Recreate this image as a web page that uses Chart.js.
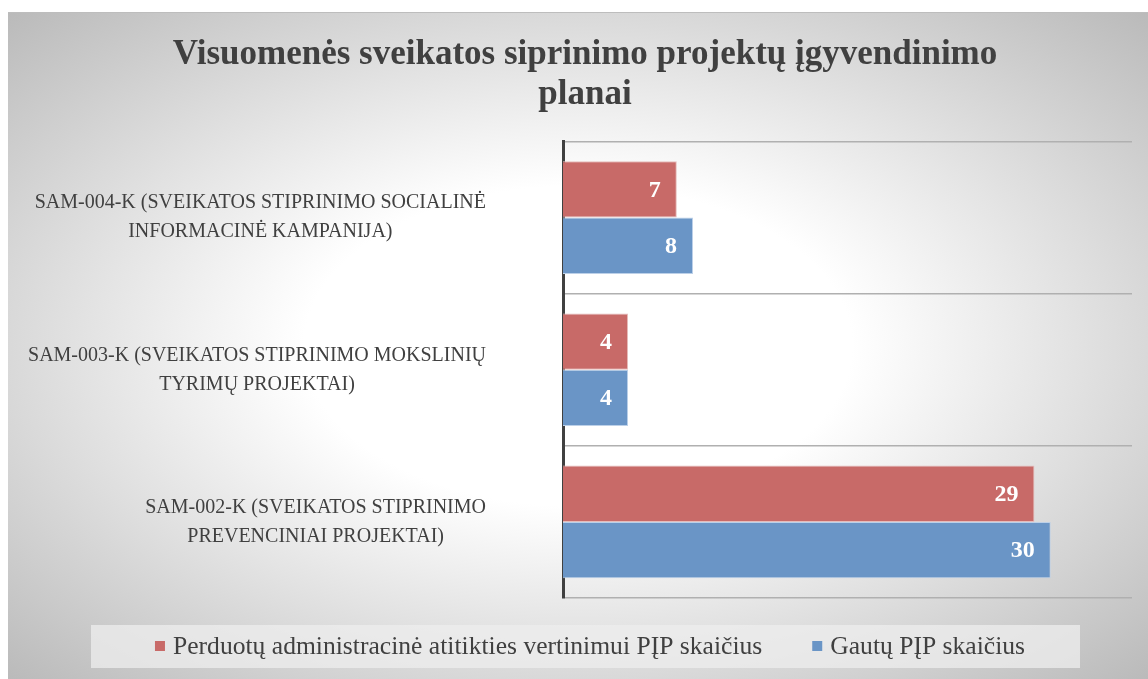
<!DOCTYPE html>
<html>
<head>
<meta charset="utf-8">
<script src="https://cdn.jsdelivr.net/npm/chart.js@4.4.1/dist/chart.umd.min.js"></script>
<style>
    html, body { margin: 0; padding: 0; background: #fff; }
    #frame {
        position: absolute; left: 8px; top: 12px; width: 1140px; height: 667px;
        box-sizing: border-box; border-top: 1px solid #bdbdbd;
        background: radial-gradient(ellipse farthest-corner at 50% 50%, #ffffff 0%, #ffffff 34%, #bababa 100%);
    }
</style>
</head>
<body>
<div id="frame"><canvas id="chart"></canvas></div>
<script>
var categories = [
    ['SAM-004-K (SVEIKATOS STIPRINIMO SOCIALINĖ', 'INFORMACINĖ KAMPANIJA)'],
    ['SAM-003-K (SVEIKATOS STIPRINIMO MOKSLINIŲ', 'TYRIMŲ PROJEKTAI)'],
    ['SAM-002-K (SVEIKATOS STIPRINIMO', 'PREVENCINIAI PROJEKTAI)']
];
var perduotu = [7, 4, 29];
var gautu = [8, 4, 30];
var seriesNames = ['Perduotų administracinė atitikties vertinimui PĮP skaičius', 'Gautų PĮP skaičius'];
var seriesColors = ['#C86A68', '#6A95C6'];
var titleLines = ['Visuomenės sveikatos siprinimo projektų įgyvendinimo', 'planai'];

var SERIF = '"Liberation Serif", "DejaVu Serif", serif';

// numbers inside the bar ends
var valueLabels = {
    id: 'valueLabels',
    afterDatasetsDraw: function (chart) {
        var ctx = chart.ctx;
        ctx.save();
        ctx.font = 'bold 24px ' + SERIF;
        ctx.fillStyle = '#ffffff';
        ctx.textAlign = 'right';
        ctx.textBaseline = 'middle';
        chart.data.datasets.forEach(function (ds, i) {
            chart.getDatasetMeta(i).data.forEach(function (bar, j) {
                ctx.fillText(ds.data[j], bar.x - 16, bar.y + 1);
            });
        });
        ctx.restore();
    }
};

// two-line category labels, lines centred in a right-aligned block
var categoryLabels = {
    id: 'categoryLabels',
    afterDraw: function (chart) {
        var ctx = chart.ctx, scale = chart.scales.y;
        var right = chart.chartArea.left - 77;
        ctx.save();
        ctx.font = '20px ' + SERIF;
        ctx.fillStyle = '#404040';
        ctx.textAlign = 'center';
        ctx.textBaseline = 'middle';
        categories.forEach(function (lines, i) {
            var w = Math.max.apply(null, lines.map(function (t) { return ctx.measureText(t).width; }));
            var y = scale.getPixelForTick(i);
            lines.forEach(function (t, k) {
                ctx.fillText(t, right - w / 2, y + (k - (lines.length - 1) / 2) * 29);
            });
        });
        ctx.restore();
    }
};

// legend with its light panel
var legendPanel = {
    id: 'legendPanel',
    afterDraw: function (chart) {
        var ctx = chart.ctx;
        var y = chart.height - 33;
        ctx.save();
        ctx.font = '25.6px ' + SERIF;
        var gap = 50, box = 10, textGap = 8;
        var widths = seriesNames.map(function (t) { return ctx.measureText(t).width; });
        var total = 0;
        widths.forEach(function (w, i) { total += box + textGap + w + (i > 0 ? gap : 0); });
        var x = chart.width / 2 - total / 2 + 12;
        ctx.fillStyle = 'rgba(238,238,238,0.75)';
        ctx.fillRect(x - 64, y - 21, total + 64 + 55, 43);
        ctx.textBaseline = 'middle';
        ctx.textAlign = 'left';
        seriesNames.forEach(function (t, i) {
            ctx.fillStyle = seriesColors[i];
            ctx.fillRect(x, y - 5, box, box);
            ctx.fillStyle = '#404040';
            ctx.fillText(t, x + box + textGap, y + 1);
            x += box + textGap + widths[i] + gap;
        });
        ctx.restore();
    }
};

new Chart(document.getElementById('chart'), {
    type: 'bar',
    data: {
        labels: categories,
        datasets: [
            { label: seriesNames[0], data: perduotu, backgroundColor: seriesColors[0], borderColor: '#E6BDBB', borderWidth: 1 },
            { label: seriesNames[1], data: gautu, backgroundColor: seriesColors[1], borderColor: '#BCD0E8', borderWidth: 1 }
        ]
    },
    options: {
        indexAxis: 'y',
        responsive: true,
        maintainAspectRatio: false,
        animation: false,
        layout: { padding: { left: 30, right: 16, top: 0, bottom: 81 } },
        datasets: { bar: { categoryPercentage: 0.74, barPercentage: 1.0 } },
        scales: {
            x: { display: false, min: 0, max: 35 },
            y: {
                ticks: { display: false },
                grid: { color: '#b0b0b0', lineWidth: 1.5, drawTicks: false },
                border: { color: '#404040', width: 3 },
                afterFit: function (s) { s.width = 525; }
            }
        },
        plugins: {
            title: {
                display: true,
                text: titleLines,
                color: '#404040',
                font: { family: SERIF, size: 35, weight: 'bold', lineHeight: 1.15 },
                padding: { top: 22, bottom: 26 }
            },
            legend: { display: false },
            tooltip: { enabled: false }
        }
    },
    plugins: [valueLabels, categoryLabels, legendPanel]
});
</script>
</body>
</html>
